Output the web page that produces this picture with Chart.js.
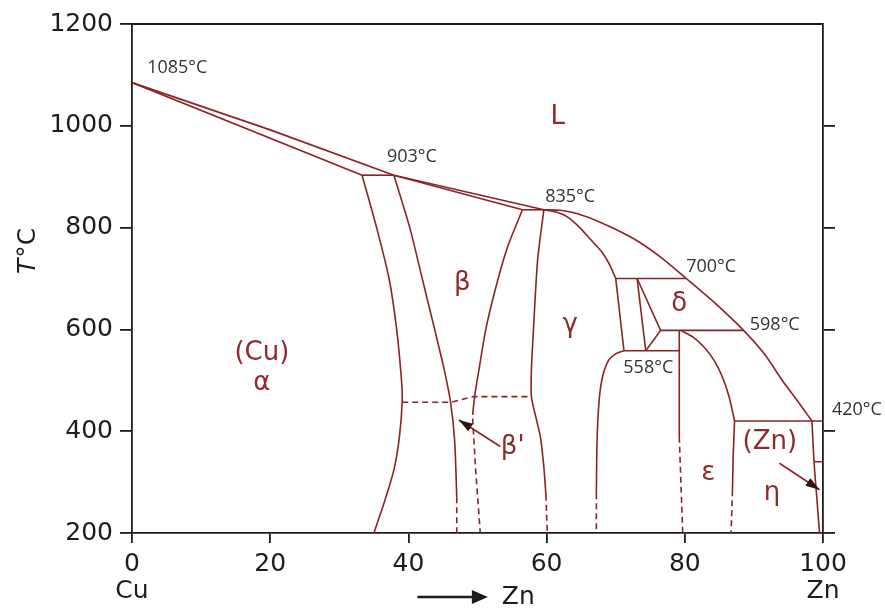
<!DOCTYPE html>
<html>
<head>
<meta charset="utf-8">
<title>Cu–Zn phase diagram</title>
<script src="https://cdn.jsdelivr.net/npm/chart.js@4.4.1/dist/chart.umd.min.js"></script>
<style>
  html, body { margin: 0; padding: 0; background: #fff; }
</style>
</head>
<body>
<canvas id="diagram" width="885" height="609"></canvas>
<script>
// axis ticks
const xTicks = [0, 20, 40, 60, 80, 100];
const xEnds = { 0: 'Cu', 100: 'Zn' };
const yTicks = [200, 400, 600, 800, 1000, 1200];

// phase boundaries as [wt% Zn, T °C]
const liquidusCu = [[0, 1085], [20, 992], [37.9, 903]];
const liquidusMid = [[37.9, 903], [59.6, 835]];
const liquidusZn = [[59.6, 835], [62, 834], [64.5, 827], [68, 809], [72.6, 778], [76.5, 742], [80.2, 700],
  [84.5, 650], [88.5, 598], [91.5, 552], [94.3, 496], [96.5, 456], [98.4, 420]];
const alphaSolidus = [[0, 1085], [33.3, 903]];
const betaSolidus = [[37.9, 903], [56.5, 835]];
const alphaSolvus = [[33.3, 903], [35.4, 800], [37.2, 700], [38.3, 600], [39, 500], [39.1, 458], [38.7, 389],
  [37.9, 324], [36.5, 260], [35, 200]];
const betaLeft = [[37.9, 903], [40.2, 800], [42, 700], [43.8, 600], [45.2, 520], [46.1, 457], [46.7, 380], [47, 270]];
const betaLeftLow = [[47, 270], [47, 200]];
const betaRight = [[56.5, 835], [54.3, 760], [52.6, 680], [51.2, 600], [50.2, 520], [49.6, 470], [49.3, 432]];
const betaRightLow = [[49.3, 425], [49.7, 330], [50.4, 200]];
const gammaLeft = [[59.6, 835], [58.7, 736], [58.1, 600], [57.8, 520], [57.8, 468], [58.4, 430], [59.1, 389],
  [59.6, 330], [59.9, 275]];
const gammaLeftLow = [[59.9, 275], [60.1, 200]];
const gammaSolidus = [[59.6, 835], [61.5, 830], [63, 821], [64.8, 800], [66.4, 776], [68, 752], [69.2, 725], [70, 700]];
const gammaDelta = [[70, 700], [71.2, 558]];
const deltaLeft = [[73.1, 700], [74.35, 558]];
const deltaEutectoid = [[73.1, 700], [76.5, 598], [74.35, 558]];
const gammaRight = [[71.2, 558], [70, 552], [69, 540], [68.1, 507], [67.6, 460], [67.3, 380], [67.2, 278]];
const gammaRightLow = [[67.2, 278], [67.2, 200]];
const epsLeft = [[79.2, 598], [79.2, 389]];
const epsLeftLow = [[79.2, 389], [79.7, 200]];
const epsRight = [[79.4, 598], [81.2, 585], [82.8, 565], [84.2, 540], [85.4, 508], [86.4, 468], [87.2, 420]];
const epsRightLow = [[87.2, 420], [87, 350], [86.9, 284]];
const epsRightTail = [[86.9, 284], [86.7, 200]];
const znSolvus = [[98.4, 420], [98.7, 340], [99.1, 270], [99.5, 200]];
const znStep = [[98.7, 340], [100, 340]];
// beta / beta' ordering
const betaOrdering = [[39.1, 457], [46.2, 457], [49.4, 468], [57.8, 468]];

// invariant temperatures
const invariants = [1085, 903, 835, 700, 598, 558, 420];
const tie903 = [[33.3, 903], [37.9, 903]];
const tie835 = [[56.5, 835], [59.6, 835]];
const tie700 = [[70, 700], [80.2, 700]];
const tie598 = [[76.5, 598], [88.5, 598]];
const tie558 = [[71.2, 558], [79.2, 558]];
const tie420 = [[87.2, 420], [100, 420]];

// pointer arrows [tail, head]
const betaPrimeArrow = [[53.3, 370], [47.3, 422]];
const znArrow = [[93.7, 337], [99.5, 285]];

const LINE = '#8a2226';
const PHASE = '#8f2a2c';
const INK = '#1c1c1c';

const solidLines = [liquidusCu, liquidusMid, alphaSolidus, betaSolidus, tie903, tie835, gammaDelta, deltaLeft,
  deltaEutectoid, tie700, tie598, tie558, epsLeft, tie420, znStep, betaPrimeArrow, znArrow];
const curvedLines = [liquidusZn, alphaSolvus, betaLeft, betaRight, gammaLeft, gammaSolidus, gammaRight,
  epsRight, epsRightLow, znSolvus];
const dashedLines = [betaLeftLow, betaRightLow, gammaLeftLow, gammaRightLow, epsLeftLow, epsRightTail, betaOrdering];

function boundary(points, opts) {
  return Object.assign({
    data: points.map(([x, y]) => ({ x, y })),
    showLine: true,
    borderColor: LINE,
    borderWidth: 1.6,
    pointRadius: 0,
    tension: 0,
    fill: false
  }, opts);
}

const datasets = [
  ...solidLines.map(p => boundary(p)),
  ...curvedLines.map(p => boundary(p, { tension: 0.25 })),
  ...dashedLines.map(p => boundary(p, { borderDash: [6, 4] }))
];

// phase field names, placed at the baseline of each name
const phaseLabels = [
  { text: 'L', x: 61.6, y: 1004 },
  { text: '(Cu)', x: 18.8, y: 540 },
  { text: 'α', x: 18.8, y: 481 },
  { text: 'β', x: 47.8, y: 677 },
  { text: 'β\'', x: 55.1, y: 356 },
  { text: 'γ', x: 63.4, y: 594 },
  { text: 'δ', x: 79.2, y: 636 },
  { text: 'ε', x: 83.4, y: 304 },
  { text: '(Zn)', x: 92.3, y: 366 },
  { text: 'η', x: 92.6, y: 265 }
];

// where each invariant temperature is written: left edge and pixel offset from its line
const tempLabelPos = [
  { x: 2.2, dy: -9.5 },
  { x: 36.9, dy: -13.5 },
  { x: 59.8, dy: -8 },
  { x: 80.2, dy: -7 },
  { x: 89.4, dy: 0 },
  { x: 71.1, dy: 22 },
  { x: 101.3, dy: -6 }
];

const annotations = {
  id: 'annotations',
  afterDraw(chart) {
    const { ctx, chartArea: a, scales: { x, y } } = chart;
    ctx.save();

    // top edge of the frame
    ctx.strokeStyle = INK;
    ctx.lineWidth = 1.8;
    ctx.beginPath();
    ctx.moveTo(a.left, a.top);
    ctx.lineTo(a.right, a.top);
    ctx.stroke();

    // arrowheads on the pointers
    ctx.fillStyle = '#2a1414';
    [betaPrimeArrow, znArrow].forEach(([t, h]) => {
      const tx = x.getPixelForValue(t[0]), ty = y.getPixelForValue(t[1]);
      const hx = x.getPixelForValue(h[0]), hy = y.getPixelForValue(h[1]);
      const ang = Math.atan2(hy - ty, hx - tx);
      ctx.save();
      ctx.translate(hx, hy);
      ctx.rotate(ang);
      ctx.beginPath();
      ctx.moveTo(0, 0);
      ctx.lineTo(-14, -4.5);
      ctx.lineTo(-14, 4.5);
      ctx.closePath();
      ctx.fill();
      ctx.restore();
    });

    // phase names
    ctx.fillStyle = PHASE;
    ctx.font = '26px "DejaVu Sans"';
    ctx.textAlign = 'center';
    ctx.textBaseline = 'alphabetic';
    phaseLabels.forEach(l => ctx.fillText(l.text, x.getPixelForValue(l.x), y.getPixelForValue(l.y)));

    // invariant temperatures
    ctx.fillStyle = '#333';
    ctx.font = '18px "Open Sans"';
    ctx.textAlign = 'left';
    invariants.forEach((t, i) => {
      const p = tempLabelPos[i];
      ctx.fillText(t + '°C', x.getPixelForValue(p.x), y.getPixelForValue(t) + p.dy);
    });

    // y axis title: italic T followed by °C
    ctx.fillStyle = INK;
    ctx.translate(28, (a.top + a.bottom) / 2 - 27);
    ctx.rotate(-Math.PI / 2);
    ctx.textBaseline = 'middle';
    ctx.font = 'italic 25px "DejaVu Sans"';
    const wT = ctx.measureText('T').width;
    ctx.font = '25px "DejaVu Sans"';
    const wC = ctx.measureText('°C').width;
    ctx.textAlign = 'left';
    ctx.font = 'italic 25px "DejaVu Sans"';
    ctx.fillText('T', -(wT + wC) / 2, 0);
    ctx.font = '25px "DejaVu Sans"';
    ctx.fillText('°C', -(wT + wC) / 2 + wT + 1, 0);
    ctx.restore();

    // composition direction below the x axis
    ctx.save();
    const ay = a.bottom + 64;
    const x0 = x.getPixelForValue(41.3), x1 = x.getPixelForValue(51.5);
    ctx.strokeStyle = INK;
    ctx.fillStyle = INK;
    ctx.lineWidth = 2.5;
    ctx.beginPath();
    ctx.moveTo(x0, ay);
    ctx.lineTo(x1 - 12, ay);
    ctx.stroke();
    ctx.beginPath();
    ctx.moveTo(x1, ay);
    ctx.lineTo(x1 - 16, ay - 7);
    ctx.lineTo(x1 - 16, ay + 7);
    ctx.closePath();
    ctx.fill();
    ctx.font = '25px "DejaVu Sans"';
    ctx.textAlign = 'center';
    ctx.textBaseline = 'middle';
    ctx.fillText('Zn', x.getPixelForValue(55.9), ay);
    ctx.restore();
  }
};

new Chart(document.getElementById('diagram'), {
  type: 'scatter',
  data: { datasets },
  options: {
    responsive: false,
    animation: false,
    layout: { padding: { top: 24, left: 0, right: 0, bottom: 0 } },
    plugins: { legend: { display: false }, tooltip: { enabled: false } },
    scales: {
      x: {
        type: 'linear',
        min: 0,
        max: 100,
        afterBuildTicks: s => { s.ticks = xTicks.map(v => ({ value: v })); },
        afterFit: s => { s.height = 76; },
        grid: { drawOnChartArea: false, tickLength: 10, color: INK, lineWidth: 1.8 },
        border: { color: INK, width: 1.8 },
        ticks: {
          color: INK,
          font: { family: 'DejaVu Sans', size: 25, lineHeight: 1.08 },
          padding: 8,
          maxRotation: 0,
          autoSkip: false,
          callback: v => xEnds[v] ? [String(v), xEnds[v]] : String(v)
        }
      },
      y: {
        position: 'left',
        min: 200,
        max: 1200,
        afterBuildTicks: s => { s.ticks = yTicks.map(v => ({ value: v })); },
        afterFit: s => { s.width = 132; },
        grid: { drawOnChartArea: false, tickLength: 12, color: INK, lineWidth: 1.8 },
        border: { color: INK, width: 1.8 },
        ticks: { color: INK, font: { family: 'DejaVu Sans', size: 25 }, padding: 7, callback: v => String(v) }
      },
      y2: {
        position: 'right',
        min: 200,
        max: 1200,
        afterBuildTicks: s => { s.ticks = yTicks.slice(0, -1).map(v => ({ value: v })); },
        afterFit: s => { s.width = 62; },
        grid: { drawOnChartArea: false, tickLength: 12, color: INK, lineWidth: 1.8 },
        border: { color: INK, width: 1.8 },
        ticks: { display: false }
      }
    }
  },
  plugins: [annotations]
});
</script>
</body>
</html>
